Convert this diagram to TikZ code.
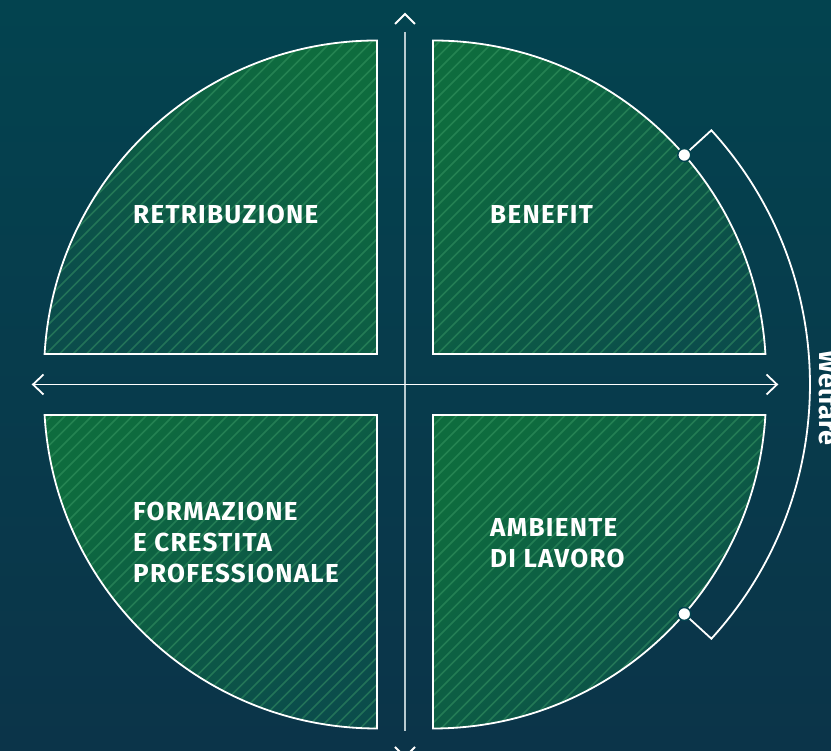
\documentclass[tikz,border=0pt]{standalone}
\usepackage{fontspec}
\setmainfont{Fira Sans}
\newfontfamily\labfont[LetterSpace=5]{Fira Sans}
\usetikzlibrary{calc}
\definecolor{bgtop}{HTML}{03434F}
\definecolor{bgbot}{HTML}{0B3449}
\definecolor{pgreen}{HTML}{0E6C3E}
\definecolor{pdark}{HTML}{0B4D4B}
\definecolor{stripecol}{HTML}{3FA06A}
\definecolor{axisgray}{HTML}{B9CBD0}
\begin{document}
\begin{tikzpicture}[x=1pt,y=1pt,
  outline/.style={draw=white, line width=1.8pt, line join=miter},
  stripeline/.style={stripecol, line width=1.5pt, opacity=0.45},
  qlabel/.style={font=\fontsize{26}{31}\labfont\bfseries, text=white, align=left, inner sep=0pt, anchor=north west},
  pindot/.style={circle, fill=white, draw=bgtop, line width=1.5pt, minimum size=13pt, inner sep=0pt},
  wbracket/.style={draw=white, line width=1.8pt, line join=miter},
  axisline/.style={draw=axisgray, line width=1.8pt},
  hline/.style={draw=white, line width=1.8pt, line join=miter},
  chevron/.style={draw=white, line width=1.8pt, line join=miter},
  welfare/.style={font=\fontsize{27}{27}\selectfont\bfseries, text=white, rotate=-90, anchor=base, inner sep=0pt}]
\useasboundingbox (0,0) rectangle (831,751);
\shade[top color=bgtop, bottom color=bgbot] (0,0) rectangle (831,751);

\def\pieceTL{(377,397) -- (377,710.5) arc[start angle=90,end angle=176.64,radius=333] -- cycle}
\def\pieceTR{(433,397) -- (433,710.5) arc[start angle=90,end angle=3.36,radius=333] -- cycle}
\def\pieceBL{(377,336) -- (377,22.5) arc[start angle=270,end angle=183.36,radius=333] -- cycle}
\def\pieceBR{(433,336) -- (433,22.5) arc[start angle=270,end angle=356.64,radius=333] -- cycle}

% fills
\shade[top color=pgreen, bottom color=pdark, shading angle=-45] \pieceTL;
\shade[top color=pgreen, bottom color=pdark, shading angle=45] \pieceTR;
\shade[top color=pgreen, bottom color=pdark, shading angle=45] \pieceBL;
\shade[top color=pgreen, bottom color=pdark, shading angle=45] \pieceBR;

% stripes
\begin{scope}
\clip \pieceTL \pieceTR \pieceBL \pieceBR;
\foreach \k in {-55,...,60} {
  \draw[stripeline] ({\k*13.5},0) -- ++(760,760);
}
\end{scope}

% outlines
\draw[outline] \pieceTL;
\draw[outline] \pieceTR;
\draw[outline] \pieceBL;
\draw[outline] \pieceBR;

% axes
\coordinate (vtop) at (405,719);
\coordinate (vbot) at (405,20);
\draw[axisline] (vtop) -- (vbot);
\coordinate (tc1) at (395,727);
\coordinate (tca) at (405,737);
\coordinate (tc2) at (415,727);
\draw[chevron] (tc1) -- (tca) -- (tc2);
\coordinate (bc1) at (395,4);
\coordinate (bca) at (405,-6);
\coordinate (bc2) at (415,4);
\draw[chevron] (bc1) -- (bca) -- (bc2);

\coordinate (hl) at (33,366.5);
\coordinate (hr) at (777,366.5);
\coordinate (hl1) at (43.5,376.5);
\coordinate (hl2) at (43.5,356.5);
\coordinate (hr1) at (766.5,376.5);
\coordinate (hr2) at (766.5,356.5);
\draw[hline] (hl) -- (hr);
\draw[hline] (hl1) -- (hl) -- (hl2);
\draw[hline] (hr1) -- (hr) -- (hr2);

% welfare bracket
\coordinate (c) at (433,366.5);
\coordinate (dotT) at ($(c)+(42.4:340.3)$);
\coordinate (brT) at ($(c)+(42.4:377)$);
\coordinate (dotB) at ($(c)+(-42.4:340.3)$);
\coordinate (brB) at ($(c)+(-42.4:377)$);
\draw[wbracket] (dotT) -- (brT) arc[start angle=42.4, end angle=-42.4, radius=377] -- (dotB);
\node[pindot] (dT) at (dotT) {};
\node[pindot] (dB) at (dotB) {};
\node[welfare] (wf) at (819.5,353) {Welfare};

% labels
\node[qlabel] (retr) at (133,546) {RETRIBUZIONE};
\node[qlabel] (bene) at (490,546) {BENEFIT};
\node[qlabel] (form) at (133,249) {FORMAZIONE\\E CRESTITA\\PROFESSIONALE};
\node[qlabel] (amb) at (490,233) {AMBIENTE\\DI LAVORO};
\end{tikzpicture}
\end{document}
